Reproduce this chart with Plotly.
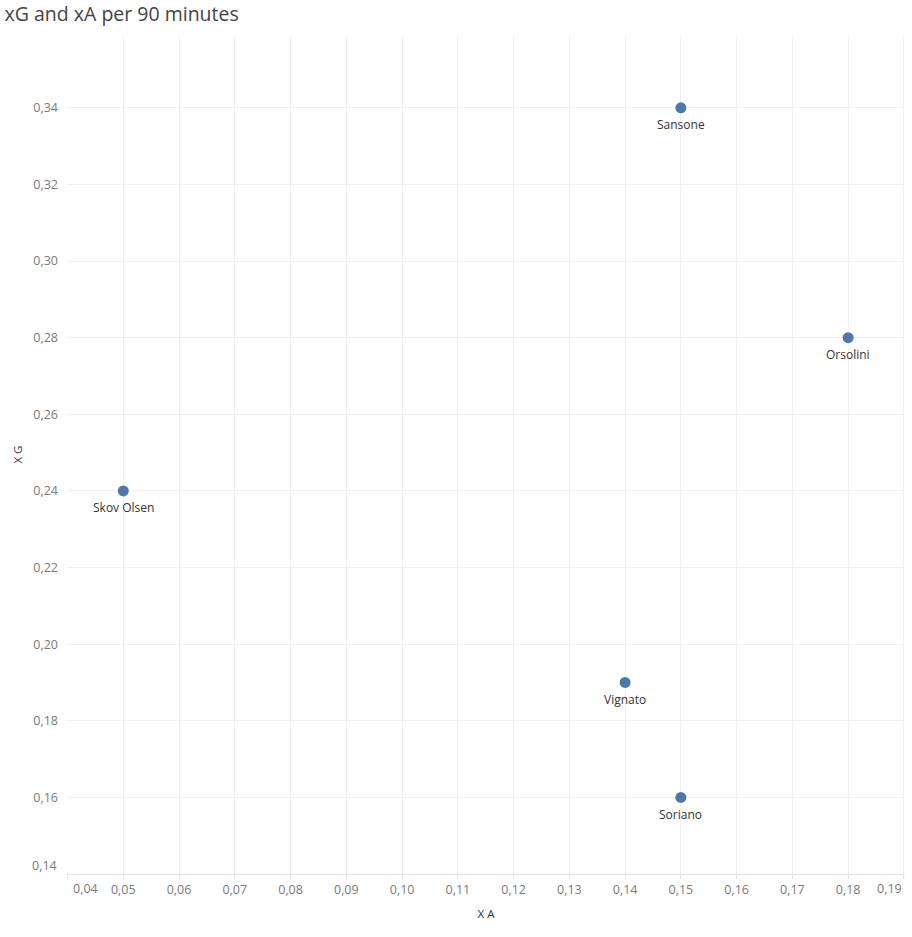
import plotly.graph_objects as go

players = ["Sansone", "Orsolini", "Skov Olsen", "Vignato", "Soriano"]
xa = [0.15, 0.18, 0.05, 0.14, 0.15]
xg = [0.34, 0.28, 0.24, 0.19, 0.16]

x_ticks = [round(0.04 + 0.01 * i, 2) for i in range(16)]
y_ticks = [round(0.14 + 0.02 * i, 2) for i in range(11)]

def fmt(v):
    return f"{v:.2f}".replace(".", ",")

TICK_FONT = dict(family="Open Sans, sans-serif", size=12.5, color="#7a7a7a")

fig = go.Figure()
fig.add_trace(go.Scatter(
    x=xa, y=xg, mode="markers",
    marker=dict(color="#4e79a7", size=11),
    text=players, hoverinfo="text",
))
for name, x, y in zip(players, xa, xg):
    fig.add_annotation(x=x, y=y, text=name, showarrow=False, yshift=-17,
                       font=dict(family="Open Sans, sans-serif", size=12, color="#333333"))

# edge tick labels shifted inward (as in the reference)
x_text = [fmt(v) for v in x_ticks]
y_text = [fmt(v) for v in y_ticks]
fig.add_annotation(x=x_ticks[0], y=0, xref="x", yref="paper", text=x_text[0], showarrow=False,
                   yanchor="top", yshift=-4, xshift=18, font=TICK_FONT)
fig.add_annotation(x=x_ticks[-1], y=0, xref="x", yref="paper", text=x_text[-1], showarrow=False,
                   yanchor="top", yshift=-4, xshift=-14, font=TICK_FONT)
fig.add_annotation(x=0, y=y_ticks[0], xref="paper", yref="y", text=y_text[0], showarrow=False,
                   xanchor="right", xshift=-8, yshift=9, font=TICK_FONT)
x_text[0] = ""
x_text[-1] = ""
y_text[0] = ""

fig.update_layout(
    width=912, height=937,
    margin=dict(l=67, r=7, t=35, b=63),
    paper_bgcolor="white", plot_bgcolor="white",
    showlegend=False,
    title=dict(text="xG and xA per 90 minutes", x=0.005, xanchor="left", y=0.985, yanchor="middle",
               font=dict(family="Open Sans, sans-serif", size=19.5, color="#444444")),
    font=dict(family="Open Sans, sans-serif"),
)
fig.update_xaxes(
    range=[0.0399, 0.1902], tickmode="array", tickvals=x_ticks, ticktext=x_text,
    showgrid=True, gridcolor="#f0f0f0", zeroline=False,
    showline=True, linecolor="#e6e6e6",
    ticks="outside", ticklen=4, tickcolor="#e6e6e6",
    tickfont=TICK_FONT,
    title=dict(text="X A", font=dict(size=11.5, color="#333333"), standoff=12),
)
fig.update_yaxes(
    range=[0.14, 0.359], tickmode="array", tickvals=y_ticks, ticktext=y_text,
    showgrid=True, gridcolor="#f0f0f0", zeroline=False,
    showline=False, ticks="", ticklabelstandoff=8,
    tickfont=TICK_FONT,
    title=dict(text="X G", font=dict(size=11.5, color="#333333"), standoff=8),
)
fig.write_html("out.html")
